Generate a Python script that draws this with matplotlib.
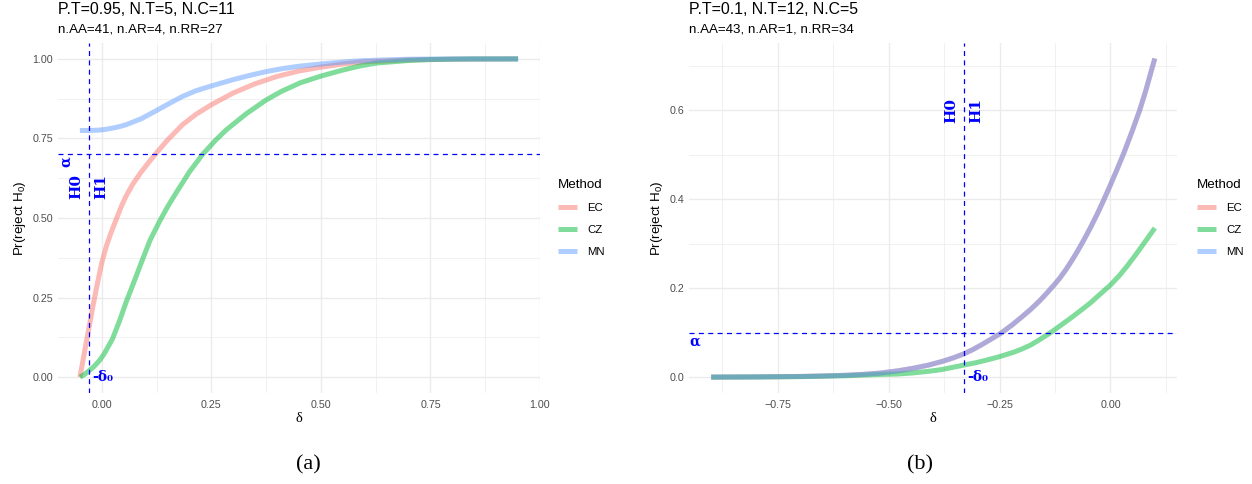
import matplotlib
matplotlib.use('Agg')
import matplotlib.pyplot as plt
from matplotlib.ticker import FixedLocator

plt.rcParams['font.family'] = ['Liberation Sans', 'DejaVu Sans']
plt.rcParams['mathtext.fontset'] = 'custom'
plt.rcParams['mathtext.rm'] = 'Liberation Sans'
plt.rcParams['mathtext.it'] = 'Liberation Sans:italic'

# ---- Data ----
methods = ['EC', 'CZ', 'MN']
method_colours = ['#F8766D', '#00BA38', '#619CFF']

# panel (a)
a_title = 'P.T=0.95, N.T=5, N.C=11'
a_subtitle = 'n.AA=41, n.AR=4, n.RR=27'
a_alpha = 0.70
a_neg_delta0 = -0.03
a_ec_x = [-0.05, -0.04, -0.03, -0.02, -0.01, 0.0, 0.01, 0.02, 0.034, 0.045,
          0.055, 0.07, 0.09, 0.11, 0.125, 0.15, 0.184, 0.215, 0.25, 0.3,
          0.35, 0.4, 0.45, 0.5, 0.55, 0.6, 0.7, 0.8, 0.95]
a_ec_y = [0.0, 0.075, 0.15, 0.225, 0.295, 0.36, 0.41, 0.45, 0.50, 0.538,
          0.568, 0.605, 0.645, 0.68, 0.705, 0.745, 0.793, 0.826, 0.856, 0.893,
          0.922, 0.945, 0.962, 0.974, 0.984, 0.991, 0.997, 0.999, 1.0]
a_cz_x = [-0.05, -0.04, -0.029, -0.018, -0.006, 0.005, 0.015, 0.024, 0.04, 0.055,
          0.075, 0.093, 0.11, 0.132, 0.15, 0.17, 0.2, 0.23, 0.26, 0.284,
          0.33, 0.375, 0.41, 0.453, 0.5, 0.55, 0.59, 0.627, 0.7, 0.75,
          0.85, 0.95]
a_cz_y = [0.0, 0.008, 0.02, 0.033, 0.051, 0.072, 0.097, 0.119, 0.175, 0.234,
          0.305, 0.37, 0.43, 0.49, 0.535, 0.58, 0.645, 0.70, 0.745, 0.777,
          0.828, 0.871, 0.898, 0.925, 0.946, 0.965, 0.978, 0.987, 0.995, 0.998,
          1.0, 1.0]
a_mn_x = [-0.05, -0.03, -0.01, 0.0, 0.015, 0.03, 0.045, 0.055, 0.07, 0.09,
          0.105, 0.125, 0.15, 0.184, 0.215, 0.25, 0.3, 0.34, 0.375, 0.41,
          0.45, 0.5, 0.55, 0.59, 0.65, 0.7, 0.8, 0.95]
a_mn_y = [0.775, 0.775, 0.776, 0.777, 0.78, 0.784, 0.789, 0.793, 0.801, 0.812,
          0.823, 0.838, 0.857, 0.882, 0.90, 0.915, 0.935, 0.949, 0.96, 0.969,
          0.977, 0.984, 0.99, 0.994, 0.997, 0.999, 1.0, 1.0]
a_xticks = [0.0, 0.25, 0.5, 0.75, 1.0]
a_xticklabels = ['0.00', '0.25', '0.50', '0.75', '1.00']
a_xminor = [0.125, 0.375, 0.625, 0.875]
a_yticks = [0.0, 0.25, 0.5, 0.75, 1.0]
a_yticklabels = ['0.00', '0.25', '0.50', '0.75', '1.00']
a_yminor = [0.125, 0.375, 0.625, 0.875]

# panel (b)  (EC and MN coincide)
b_title = 'P.T=0.1, N.T=12, N.C=5'
b_subtitle = 'n.AA=43, n.AR=1, n.RR=34'
b_alpha = 0.10
b_neg_delta0 = -0.331
b_ec_x = [-0.9, -0.85, -0.8, -0.75, -0.7, -0.65, -0.6, -0.56, -0.52, -0.48,
          -0.444, -0.41, -0.38, -0.355, -0.331, -0.31, -0.29, -0.268, -0.245, -0.222,
          -0.2, -0.18, -0.16, -0.145, -0.127, -0.113, -0.1, -0.087, -0.073, -0.06,
          -0.045, -0.03, -0.016, 0.0, 0.015, 0.03, 0.048, 0.066, 0.08, 0.094,
          0.1]
b_ec_y = [0.0, 0.0002, 0.0005, 0.001, 0.0015, 0.0025, 0.004, 0.006, 0.009, 0.014,
          0.02, 0.027, 0.035, 0.043, 0.052, 0.062, 0.073, 0.086, 0.10, 0.117,
          0.135, 0.152, 0.171, 0.187, 0.207, 0.224, 0.242, 0.262, 0.285, 0.308,
          0.336, 0.366, 0.396, 0.432, 0.467, 0.503, 0.55, 0.60, 0.645, 0.695,
          0.716]
b_cz_x = [-0.9, -0.8, -0.7, -0.65, -0.6, -0.56, -0.52, -0.48, -0.444, -0.41,
          -0.38, -0.355, -0.331, -0.305, -0.28, -0.25, -0.218, -0.2, -0.18, -0.16,
          -0.135, -0.118, -0.1, -0.085, -0.068, -0.045, -0.0225, 0.0, 0.02, 0.038,
          0.057, 0.075, 0.088, 0.1]
b_cz_y = [0.0, 0.0003, 0.001, 0.002, 0.003, 0.0045, 0.006, 0.007, 0.0095, 0.013,
          0.017, 0.022, 0.027, 0.032, 0.038, 0.046, 0.056, 0.063, 0.072, 0.084,
          0.10, 0.112, 0.125, 0.136, 0.149, 0.167, 0.187, 0.207, 0.228, 0.25,
          0.275, 0.30, 0.318, 0.335]
b_mn_x = b_ec_x
b_mn_y = b_ec_y
b_xticks = [-0.75, -0.5, -0.25, 0.0]
b_xticklabels = ['\u22120.75', '\u22120.50', '\u22120.25', '0.00']
b_xminor = [-0.875, -0.625, -0.375, -0.125, 0.125]
b_yticks = [0.0, 0.2, 0.4, 0.6]
b_yticklabels = ['0.0', '0.2', '0.4', '0.6']
b_yminor = [0.1, 0.3, 0.5, 0.7]

W, H = 1252, 484
LABEL_FONT = ['DejaVu Serif', 'DejaVu Sans']


def draw_panel(fig, left_px, width_px, curves, xlim, ylim, alpha, neg_d0,
               xticks, xticklabels, xminor, yticks, yticklabels, yminor,
               title, subtitle, alpha_rot, ylabel_x, legend_x, caption, caption_x):
    ax = fig.add_axes([left_px / W, (H - 393) / H, width_px / W, 350 / H])
    for sp in ax.spines.values():
        sp.set_visible(False)

    ax.set_xlim(*xlim)
    ax.set_ylim(*ylim)
    ax.set_xticks(xticks)
    ax.set_xticklabels(xticklabels)
    ax.set_yticks(yticks)
    ax.set_yticklabels(yticklabels)
    ax.xaxis.set_minor_locator(FixedLocator(xminor))
    ax.yaxis.set_minor_locator(FixedLocator(yminor))
    ax.tick_params(which='both', length=0, labelsize=7.7, labelcolor='#4D4D4D')
    ax.tick_params(axis='x', pad=5)
    ax.tick_params(axis='y', pad=3.6)
    ax.grid(which='major', color='#EBEBEB', lw=1.0)
    ax.grid(which='minor', color='#EBEBEB', lw=0.5)
    ax.set_axisbelow(True)

    handles = []
    for (cx, cy), name, col in zip(curves, methods, method_colours):
        ln, = ax.plot(cx, cy, color=col, alpha=0.5, lw=3.6,
                      solid_capstyle='butt', solid_joinstyle='round', label=name)
        handles.append(ln)

    dash = (0, (4, 3.5))
    ax.axhline(alpha, color='blue', lw=0.9, ls=dash)
    ax.axvline(neg_d0, color='blue', lw=0.9, ls=dash)

    ax.text(neg_d0 - 0.028, 0.6, 'H0', rotation=90, ha='center', va='center',
            color='blue', fontsize=11, fontweight='bold', family=LABEL_FONT)
    ax.text(neg_d0 + 0.028, 0.6, 'H1', rotation=90, ha='center', va='center',
            color='blue', fontsize=11, fontweight='bold', family=LABEL_FONT)
    ax.annotate('\u03b1', xy=(xlim[0], alpha), xytext=(0.5, -1.5),
                textcoords='offset points', ha='left', va='top',
                rotation=alpha_rot, color='blue', fontsize=10,
                fontweight='bold', family=LABEL_FONT)
    ax.annotate('-\u03b4\u2080', xy=(neg_d0, 0.0), xytext=(2.5, 0),
                textcoords='offset points', ha='left', va='center',
                color='blue', fontsize=10, fontweight='bold', family=LABEL_FONT)

    ax.set_xlabel('\u03b4', family=['Liberation Serif', 'DejaVu Serif'],
                  fontsize=10.5)
    ax.xaxis.set_label_coords(0.5, -(418 - 393) / 350)
    ax.xaxis.label.set_va('center')
    ax.set_ylabel(r'Pr(reject H$_0$)', fontsize=9.6)
    ax.yaxis.set_label_coords(ylabel_x, 0.5)
    ax.yaxis.label.set_va('center')

    fig.text(left_px / W, 1 - 9.5 / H, title, fontsize=11.4, va='center')
    fig.text(left_px / W, 1 - 29 / H, subtitle, fontsize=9.6, va='center')

    leg = ax.legend(handles=handles, title='Method', loc='upper left',
                    bbox_to_anchor=(legend_x / W, 1 - 179 / H),
                    bbox_transform=fig.transFigure, frameon=False,
                    borderpad=0, borderaxespad=0, alignment='left',
                    fontsize=8.2, title_fontsize=9.6, handlelength=1.7,
                    handletextpad=0.9, labelspacing=1.05)
    for lh in leg.get_lines():
        lh.set_linewidth(3.6)

    fig.text(caption_x / W, 1 - 465 / H, caption, fontsize=16, ha='center',
             va='center', family=['Liberation Serif', 'DejaVu Serif'])
    return ax


fig = plt.figure(figsize=(W / 100, H / 100), dpi=100)

draw_panel(fig, 58, 482,
           [(a_ec_x, a_ec_y), (a_cz_x, a_cz_y), (a_mn_x, a_mn_y)],
           (-0.1, 1.0), (-0.05, 1.05), a_alpha, a_neg_delta0,
           a_xticks, a_xticklabels, a_xminor, a_yticks, a_yticklabels, a_yminor,
           a_title, a_subtitle, 90, -0.078, 558, '(a)', 308)

draw_panel(fig, 689, 488,
           [(b_ec_x, b_ec_y), (b_cz_x, b_cz_y), (b_mn_x, b_mn_y)],
           (-0.95, 0.15), (-0.0357, 0.7507), b_alpha, b_neg_delta0,
           b_xticks, b_xticklabels, b_xminor, b_yticks, b_yticklabels, b_yminor,
           b_title, b_subtitle, 0, -0.066, 1197, '(b)', 920)

fig.savefig('out.png', dpi=100)
